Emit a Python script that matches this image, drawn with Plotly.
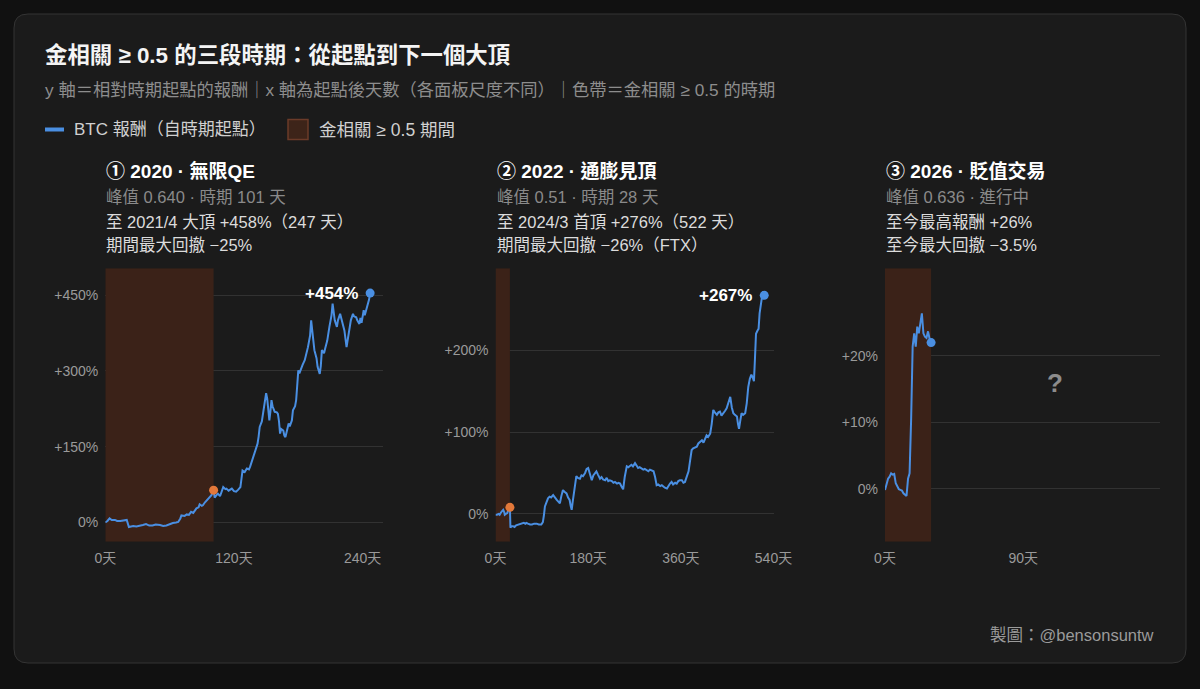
import plotly.graph_objects as go

W, H = 1200, 689


def px(x):
    return x / W


def py(y):
    return 1 - y / H


FONT = "Liberation Sans, Noto Sans CJK TC, sans-serif"

# ---------------- data ----------------
title_text = "金相關 ≥ 0.5 的三段時期：從起點到下一個大頂"
subtitle_text = "y 軸＝相對時期起點的報酬｜x 軸為起點後天數（各面板尺度不同）｜色帶＝金相關 ≥ 0.5 的時期"
legend_line_text = "BTC 報酬（自時期起點）"
legend_band_text = "金相關 ≥ 0.5 期間"
credit_text = "製圖：@bensonsuntw"

# Panel 1: 2020
p1_days = [0, 2, 4, 6, 9, 11, 14, 17, 20, 22, 24, 26, 29, 32, 35, 38, 41, 44, 47, 51, 54, 57, 60, 63, 66,
           68, 70, 71, 74, 76, 78, 80, 82, 85, 87, 88, 90, 91, 93, 95, 97, 99, 101,
           102, 104, 105, 107, 110, 112, 113, 115, 118, 120, 122, 124, 126, 128, 130, 132, 134, 135, 137,
           138, 140, 142, 143, 144, 146, 147, 149, 150, 151, 152, 153, 154, 155, 156, 158, 160, 161, 162,
           163, 164, 166, 167, 168, 169, 171, 172, 174, 175, 177, 178, 179, 180, 181, 183, 184, 186, 188,
           189, 191, 192, 193, 194, 195, 197, 198, 200, 201, 202, 204, 205, 207, 209, 211, 212, 213, 214,
           216, 217, 219, 220, 222, 223, 225, 226, 228, 229, 231, 232, 234, 235, 237, 238, 239, 241, 242,
           244, 245, 246, 247]
p1_ret = [0, 3, 8, 5, 5, 3, 3, 4, 5, -9, -8, -7, -8, -7, -5, -3, -6, -6, -4, -5, -7, -6, -3, -1, 0,
          1, 8, 14, 13, 16, 15, 21, 19, 28, 30, 36, 33, 34, 40, 44, 50, 54, 64,
          49, 55, 57, 52, 70, 66, 67, 63, 67, 62, 61, 65, 70, 103, 100, 107, 105, 110, 122,
          130, 140, 156, 170, 189, 200, 215, 240, 256, 245, 229, 202, 220, 242, 230, 219, 218, 215, 200,
          176, 185, 182, 172, 169, 178, 196, 190, 202, 222, 230, 242, 270, 301, 295, 308, 312, 321, 335,
          347, 370, 400, 380, 360, 341, 325, 308, 294, 310, 341, 335, 344, 360, 387, 410, 433, 420, 400,
          387, 400, 413, 405, 393, 380, 347, 360, 387, 400, 413, 408, 406, 400, 393, 405, 395, 420, 410,
          426, 430, 441, 454]

# Panel 2: 2022
p2_days = [0, 3, 6, 8, 11, 13, 15, 17, 18, 20, 23, 25, 28,
           29, 31, 34, 37, 40, 44, 47, 51, 55, 58, 60, 63, 67, 71, 75, 80, 84, 89, 92, 94, 96, 99, 102,
           105, 108, 112, 115, 119, 122, 125, 128, 131, 134, 138, 141, 144, 146, 148, 150, 152, 154, 157,
           160, 164, 167, 170, 174, 177, 180, 183, 187, 190, 193, 196, 199, 203, 206, 209, 213, 216, 219,
           222, 226, 229, 232, 236, 239, 242, 245, 248, 251, 253, 255, 258, 261, 264, 267, 271, 274, 277,
           280, 284, 287, 290, 294, 297, 300, 303, 307, 310, 313, 316, 320, 323, 326, 329, 333, 336, 339,
           342, 345, 349, 352, 355, 358, 362, 365, 368, 371, 375, 378, 381, 384, 388, 391, 394, 397, 401,
           404, 407, 410, 413, 417, 420, 423, 426, 430, 433, 436, 439, 443, 446, 449, 452, 456, 459, 462,
           465, 469, 471, 473, 475, 478, 481, 485, 488, 491, 494, 497, 500, 502, 504, 506, 509, 511, 513,
           515, 517, 519, 521, 522]
p2_ret = [-1, -1, 0, -1, 2, 4, 5, 2, -1, 0, 1, 5, 8,
          -17, -15, -15, -16, -14, -13, -13, -12, -11, -12, -11, -12, -13, -13, -12, -12, -13, -13, -10,
          -2, 9, 14, 19, 21, 20, 23, 20, 17, 15, 13, 22, 29, 27, 25, 20, 17, 10, 5, 15, 25, 38, 46,
          44, 43, 47, 46, 50, 55, 56, 50, 41, 47, 50, 52, 48, 43, 45, 42, 41, 44, 40,
          41, 40, 38, 39, 37, 38, 37, 33, 30, 45, 55, 58, 57, 58, 60, 58, 62, 59, 56,
          57, 55, 54, 55, 53, 52, 54, 53, 52, 45, 35, 36, 34, 35, 33, 32, 31, 35, 37,
          39, 36, 38, 37, 40, 41, 41, 38, 39, 45, 52, 65, 78, 80, 81, 82, 86, 88, 90,
          87, 93, 96, 94, 98, 110, 127, 124, 121, 124, 125, 120, 123, 126, 129, 135, 143, 130, 123,
          121, 119, 110, 104, 112, 123, 121, 123, 135, 155, 165, 170, 166, 162, 190, 220, 224, 226, 245,
          255, 262, 271, 270, 267]

# Panel 3: 2026
p3_days = [0, 1, 2, 3, 4, 5, 6, 7, 8, 9, 10, 11, 12, 13, 14, 15, 16, 17, 18, 19, 20, 21, 22, 23, 24,
           25, 26, 27, 28, 29, 30]
p3_ret = [-0.2, 0.5, 1.5, 1.8, 2.3, 2.1, 2.2, 0.8, 0.3, -0.1, -0.2, -0.3, -0.7, -0.9, -1.1, 1.5, 2.3,
          10.4, 21.4, 23.4, 21.4, 24.4, 23.4, 24.9, 26.4, 23.4, 22.9, 22.7, 23.7, 22.6, 22.0]

period_days = [101, 28, 30]
period_ongoing = [False, False, True]
end_labels = ["+454%", "+267%", None]

p1_xticks = [0, 120, 240]
p2_xticks = [0, 180, 360, 540]
p3_xticks = [0, 90]
p1_yticks = [0, 150, 300, 450]
p2_yticks = [0, 100, 200]
p3_yticks = [0, 10, 20]

headers = [
    ["① 2020 · 無限QE", "峰值 0.640 · 時期 101 天", "至 2021/4 大頂 +458%（247 天）", "期間最大回撤 −25%"],
    ["② 2022 · 通膨見頂", "峰值 0.51 · 時期 28 天", "至 2024/3 首頂 +276%（522 天）", "期間最大回撤 −26%（FTX）"],
    ["③ 2026 · 貶值交易", "峰值 0.636 · 進行中", "至今最高報酬 +26%", "至今最大回撤 −3.5%"],
]

# ---------------- style / layout ----------------
BLUE = "#4a8fe2"
ORANGE = "#e2783a"
BAND = "#3b2218"
GRID = "#323232"
TICK = "#9a9a9a"

plot_top, plot_bottom = 268.3, 541.7
panel_px = [(105.3, 383.0), (495.5, 773.5), (885.0, 1160.0)]
x_ranges = [[0, 259], [0, 540], [0, 179]]
y_ranges = [[-38, 503], [-34, 300], [-8, 33.2]]

series = [(p1_days, p1_ret), (p2_days, p2_ret), (p3_days, p3_ret)]
xticks = [p1_xticks, p2_xticks, p3_xticks]
yticks = [p1_yticks, p2_yticks, p3_yticks]

fig = go.Figure()
shapes = []
annotations = []

# card background
x0, x1, y0, y1, r = 14, 1186, 14, 663, 14
card_path = (
    f"M {px(x0 + r)},{py(y0)} L {px(x1 - r)},{py(y0)} Q {px(x1)},{py(y0)} {px(x1)},{py(y0 + r)} "
    f"L {px(x1)},{py(y1 - r)} Q {px(x1)},{py(y1)} {px(x1 - r)},{py(y1)} "
    f"L {px(x0 + r)},{py(y1)} Q {px(x0)},{py(y1)} {px(x0)},{py(y1 - r)} "
    f"L {px(x0)},{py(y0 + r)} Q {px(x0)},{py(y0)} {px(x0 + r)},{py(y0)} Z"
)
shapes.append(dict(type="path", xref="paper", yref="paper", path=card_path,
                   fillcolor="#1b1b1b", line=dict(color="#343434", width=1), layer="below"))

layout_axes = {}
for i in range(3):
    n = "" if i == 0 else str(i + 1)
    xa, ya = "x" + n, "y" + n
    days, ret = series[i]
    lo, hi = y_ranges[i]
    # band as a filled trace (above gridlines, below the line)
    fig.add_trace(go.Scatter(x=[0, period_days[i], period_days[i], 0, 0], y=[lo, lo, hi, hi, lo],
                             mode="lines", fill="toself", fillcolor=BAND, line=dict(width=0),
                             xaxis=xa, yaxis=ya, hoverinfo="skip", showlegend=False))
    fig.add_trace(go.Scatter(x=days, y=ret, mode="lines", xaxis=xa, yaxis=ya,
                             line=dict(color=BLUE, width=2), hoverinfo="skip", showlegend=False))
    if not period_ongoing[i]:
        k = days.index(period_days[i])
        fig.add_trace(go.Scatter(x=[days[k]], y=[ret[k]], mode="markers", xaxis=xa, yaxis=ya,
                                 marker=dict(color=ORANGE, size=9), hoverinfo="skip", showlegend=False))
    fig.add_trace(go.Scatter(x=[days[-1]], y=[ret[-1]], mode="markers", xaxis=xa, yaxis=ya,
                             marker=dict(color=BLUE, size=9), hoverinfo="skip", showlegend=False))
    if end_labels[i]:
        annotations.append(dict(x=days[-1], y=ret[-1], xref=xa, yref=ya, text="<b>" + end_labels[i] + "</b>",
                                showarrow=False, xanchor="right", yanchor="middle", xshift=-10,
                                font=dict(family=FONT, size=17, color="#ffffff")))
    xl, xr = panel_px[i]
    layout_axes["xaxis" + n] = dict(
        domain=[px(xl), px(xr)], range=x_ranges[i], anchor=ya, showgrid=False, zeroline=False,
        showline=False, tickvals=xticks[i], ticktext=[f"{v}天" for v in xticks[i]], automargin=False,
        tickfont=dict(family=FONT, size=14, color=TICK), ticklabelstandoff=6, fixedrange=True)
    layout_axes["yaxis" + n] = dict(
        domain=[py(plot_bottom), py(plot_top)], range=y_ranges[i], anchor=xa, showgrid=True,
        gridcolor=GRID, gridwidth=1, zeroline=False, showline=False, tickvals=yticks[i], automargin=False,
        ticktext=[("0%" if v == 0 else f"+{v}%") for v in yticks[i]],
        tickfont=dict(family=FONT, size=14, color=TICK), ticklabelstandoff=6, fixedrange=True)
    hy = [171.5, 196.5, 221.5, 244.5]
    hcol = ["#ffffff", "#8a8a8a", "#dcdcdc", "#dcdcdc"]
    for j, t in enumerate(headers[i]):
        txt = f"<b>{t}</b>" if j == 0 else t
        annotations.append(dict(x=px(xl - 1), y=py(hy[j]), xref="paper", yref="paper", text=txt,
                                showarrow=False, xanchor="left", yanchor="middle",
                                font=dict(family=FONT, size=19 if j == 0 else 16.5, color=hcol[j])))

annotations.append(dict(x=px(1055), y=py(383), xref="paper", yref="paper", text="<b>?</b>", showarrow=False,
                        xanchor="center", yanchor="middle",
                        font=dict(family=FONT, size=26, color="#8c8c8c")))

annotations.append(dict(x=px(43), y=py(55), xref="paper", yref="paper", text=f"<b>{title_text}</b>",
                        showarrow=False, xanchor="left", yanchor="middle",
                        font=dict(family=FONT, size=22.4, color="#f4f4f4")))
annotations.append(dict(x=px(43), y=py(90), xref="paper", yref="paper", text=subtitle_text,
                        showarrow=False, xanchor="left", yanchor="middle",
                        font=dict(family=FONT, size=17.25, color="#8d8d8d")))

shapes.append(dict(type="line", xref="paper", yref="paper", x0=px(45), x1=px(64), y0=py(129.5), y1=py(129.5),
                   line=dict(color=BLUE, width=4)))
annotations.append(dict(x=px(72), y=py(130), xref="paper", yref="paper", text=legend_line_text,
                        showarrow=False, xanchor="left", yanchor="middle",
                        font=dict(family=FONT, size=17, color="#d0d0d0")))
shapes.append(dict(type="rect", xref="paper", yref="paper", x0=px(288), x1=px(308), y0=py(139.5), y1=py(119.5),
                   fillcolor="#3d2419", line=dict(color="#6b3b29", width=1.5)))
annotations.append(dict(x=px(317), y=py(130), xref="paper", yref="paper", text=legend_band_text,
                        showarrow=False, xanchor="left", yanchor="middle",
                        font=dict(family=FONT, size=17.5, color="#d0d0d0")))

annotations.append(dict(x=px(1156), y=py(635), xref="paper", yref="paper", text=credit_text,
                        showarrow=False, xanchor="right", yanchor="middle",
                        font=dict(family=FONT, size=16.5, color="#9a9a9a")))

fig.update_layout(
    width=W, height=H, margin=dict(l=0, r=0, t=0, b=0, pad=0, autoexpand=False),
    paper_bgcolor="#111111", plot_bgcolor="rgba(0,0,0,0)",
    font=dict(family=FONT, color="#dddddd"),
    showlegend=False, shapes=shapes, annotations=annotations, hovermode=False,
    **layout_axes,
)

fig.write_html("out.html", config={"displayModeBar": False},
               post_script="document.body.style.margin='0';document.body.style.overflow='hidden';")
